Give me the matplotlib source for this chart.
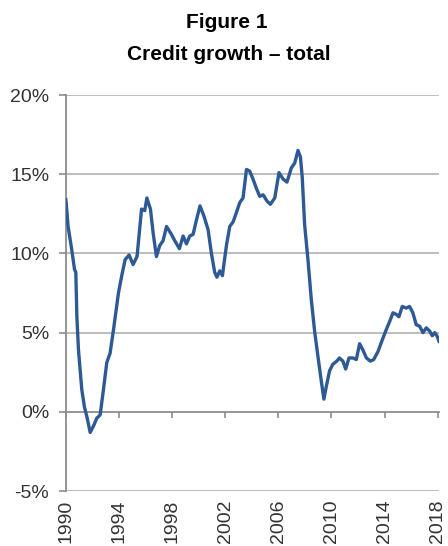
import numpy as np
import matplotlib
matplotlib.use('Agg')
from matplotlib import pyplot as plt

plt.rcParams['font.family'] = ['Liberation Sans', 'DejaVu Sans']

# traced points: decimal year, credit growth in %
years = [1990.00, 1990.17, 1990.45, 1990.65, 1990.75, 1990.83, 1990.95, 1991.20, 1991.40, 1991.58,
         1991.83, 1992.08, 1992.33, 1992.58, 1992.83, 1993.08, 1993.33, 1993.59, 1993.96, 1994.21,
         1994.46, 1994.76, 1995.06,
         1995.36, 1995.70, 1995.94, 1996.10, 1996.37, 1996.57, 1996.82, 1997.07, 1997.32, 1997.58,
         1997.95, 1998.20, 1998.55, 1998.83, 1999.08, 1999.33, 1999.58, 1999.83, 2000.10, 2000.38,
         2000.71, 2000.96, 2001.21, 2001.38, 2001.59, 2001.79, 2002.09, 2002.34, 2002.60, 2002.85,
         2003.09, 2003.34, 2003.60, 2003.84, 2004.09, 2004.35, 2004.60, 2004.85, 2005.15, 2005.40,
         2005.73, 2006.05, 2006.35, 2006.65, 2006.98, 2007.23, 2007.48, 2007.66, 2007.80, 2007.98,
         2008.23, 2008.48, 2008.73, 2008.98, 2009.24, 2009.43, 2009.61, 2009.86, 2010.10, 2010.40,
         2010.60, 2010.86, 2011.07, 2011.32, 2011.62, 2011.87, 2012.12, 2012.37, 2012.63, 2012.93,
         2013.18, 2013.50, 2013.83, 2014.13, 2014.38, 2014.63, 2014.88, 2015.08, 2015.33, 2015.63,
         2015.88, 2016.13, 2016.38, 2016.64, 2016.89, 2017.14, 2017.39, 2017.59, 2017.77, 2017.94,
         2018.10]
growth = [13.4, 11.7, 10.2, 9.0, 8.8, 6.0, 3.9, 1.4, 0.3, -0.3,
          -1.3, -0.9, -0.4, -0.2, 1.4, 3.1, 3.7, 5.2, 7.5, 8.6,
          9.6, 9.9, 9.3,
          9.8, 12.8, 12.7, 13.5, 12.8, 11.3, 9.8, 10.5, 10.8, 11.7,
          11.2, 10.8, 10.3, 11.1, 10.6, 11.1, 11.2, 12.1, 13.0, 12.4,
          11.5, 10.0, 8.8, 8.5, 8.9, 8.6, 10.5, 11.7, 12.0, 12.6,
          13.2, 13.5, 15.3, 15.2, 14.7, 14.1, 13.6, 13.7, 13.3, 13.1,
          13.5, 15.1, 14.7, 14.5, 15.4, 15.7, 16.5, 16.1, 14.8, 11.8,
          9.6, 7.1, 5.1, 3.5, 1.9, 0.8, 1.6, 2.6, 3.0, 3.2,
          3.4, 3.2, 2.7, 3.4, 3.4, 3.3, 4.3, 3.9, 3.4, 3.2,
          3.3, 3.8, 4.55, 5.2, 5.7, 6.25, 6.15, 6.0, 6.65, 6.55,
          6.65, 6.25, 5.5, 5.4, 5.0, 5.3, 5.1, 4.8, 5.0, 4.8,
          4.45]

xticks = [1990, 1994, 1998, 2002, 2006, 2010, 2014, 2018]
yticks = [-5, 0, 5, 10, 15, 20]
ylabels = ['-5%', '0%', '5%', '10%', '15%', '20%']

fig = plt.figure(figsize=(4.48, 5.46), dpi=100)
ax = fig.add_axes([0.147, 0.1007, 0.833, 0.7253])

grey = '#b8b8b8'
for v in yticks:
    if v != 0:
        ax.axhline(v, color=grey, lw=1.3, zorder=1)

ax.plot(years, growth, color='#2d5a94', lw=2.4, zorder=3)

ax.set_xlim(1990, 2018.1)
ax.set_ylim(-5, 20)

# x axis line sits at 0%
ax.spines['bottom'].set_position(('data', 0))
ax.spines['bottom'].set_color('#8c8c8c')
ax.spines['bottom'].set_linewidth(1.3)
ax.spines['left'].set_color('#8c8c8c')
ax.spines['left'].set_linewidth(1.3)
ax.spines['top'].set_visible(False)
ax.spines['right'].set_visible(False)

ax.set_xticks(xticks)
ax.tick_params(axis='x', length=4, width=1.2, color='#8c8c8c', labelbottom=False)
ax.set_yticks(yticks)
ax.set_yticklabels(ylabels)
ax.tick_params(axis='y', length=5, width=1.2, color='#8c8c8c', pad=7, labelsize=14, labelcolor='#333333')

# year labels along the bottom edge
sec = ax.secondary_xaxis(location=0)
sec.set_xticks(xticks)
sec.set_xticklabels([str(y) for y in xticks], rotation=90)
sec.tick_params(length=0, pad=6, labelsize=14, labelcolor='#333333')
sec.spines['bottom'].set_visible(False)

fig.text(0.507, 0.958, 'Figure 1', ha='center', va='center', fontsize=15, fontweight='bold')
fig.text(0.511, 0.9, 'Credit growth \u2013 total', ha='center', va='center', fontsize=15, fontweight='bold')

fig.savefig('out.png', dpi=100)
